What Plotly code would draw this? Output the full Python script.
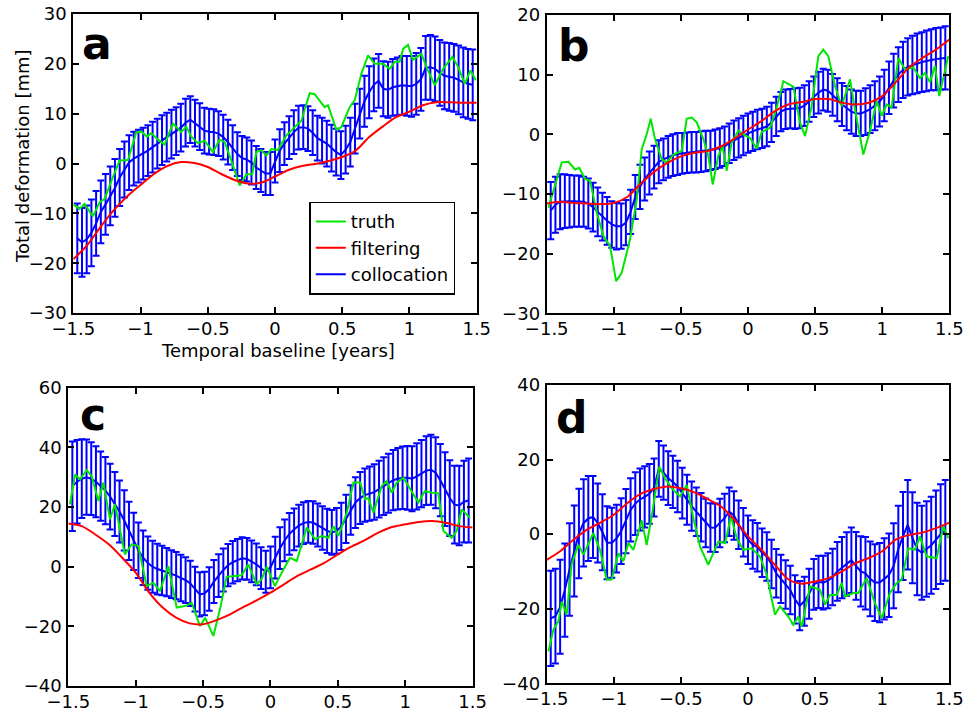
import numpy as np
import plotly.graph_objects as go

# Epochs of the collocation estimates (years around the reference date)
epochs = np.round(-1.47 + 0.035 * np.arange(85), 3)
# Epochs of the smoothed filter output
filt_t = np.round(-1.5 + 0.1 * np.arange(31), 2)

# ---------------- panel a ----------------
truth_a_t = [-1.50, -1.453, -1.416, -1.354, -1.304, -1.267, -1.205, -1.155, -1.093, -1.031,
             -0.994, -0.952, -0.920, -0.870, -0.821, -0.759, -0.697, -0.660, -0.622, -0.573,
             -0.523, -0.461, -0.412, -0.374, -0.325, -0.263, -0.213, -0.169, -0.139, -0.102,
             -0.064, -0.027, 0.022, 0.084, 0.146, 0.196, 0.258, 0.295, 0.369, 0.394,
             0.456, 0.493, 0.555, 0.593, 0.642, 0.692, 0.741, 0.803, 0.853, 0.890,
             0.927, 0.952, 0.989, 1.026, 1.088, 1.126, 1.188, 1.250, 1.319, 1.361,
             1.411, 1.453, 1.493]
truth_a = [-8.2, -9.1, -8.1, -10.6, -7.8, -7.1, -2.7, 0.6, 0.7, 6.3,
           6.4, 5.4, 6.1, 4.8, 3.8, 8.0, 6.3, 7.4, 5.4, 4.1,
           4.6, 2.3, 4.8, 4.3, 0.6, -4.4, -2.2, -2.1, 2.3, 2.7,
           1.6, 2.9, 2.7, 5.6, 7.3, 8.6, 14.1, 13.9, 11.3, 11.7,
           6.8, 7.3, 11.3, 12.7, 18.0, 21.7, 20.0, 20.0, 19.0, 20.4,
           20.4, 23.0, 23.8, 20.8, 22.0, 19.4, 15.7, 19.0, 21.4, 19.4,
           16.0, 18.7, 16.7]
filter_a = [-19.2, -16.5, -12.8, -9.4, -6.6, -4.3, -2.1, -0.5, 0.3, 0.1,
            -0.7, -2.1, -3.3, -4.0, -3.8, -2.6, -1.3, -0.5, -0.1, 0.5,
            1.3, 2.6, 5.3, 7.4, 9.3, 10.4, 11.7, 12.3, 12.3, 12.2, 12.2]
colloc_a = [-15.0, -15.8, -15.2, -13.9, -12.0, -9.7, -8.2, -6.5, -4.9, -2.8,
            -1.2, 0.2, 1.0, 1.5, 2.0, 2.6, 3.3, 4.0, 4.7, 5.3,
            5.9, 6.5, 7.2, 8.2, 8.8, 8.1, 7.4, 6.6, 6.4, 6.3,
            6.0, 5.3, 4.3, 3.2, 1.9, 1.1, 0.8, 0.2, -0.8, -1.4,
            -2.0, -2.0, 0.5, 2.6, 4.0, 5.2, 6.3, 7.2, 7.3, 7.0,
            6.2, 5.1, 4.6, 4.0, 3.1, 2.3, 1.7, 2.8, 4.3, 7.0,
            10.0, 12.5, 14.3, 15.8, 16.6, 15.0, 14.8, 15.3, 15.5, 15.7,
            15.6, 15.5, 16.0, 16.9, 19.2, 19.3, 19.0, 18.2, 17.6, 17.4,
            17.2, 16.8, 16.3, 16.0, 15.8]
sigma_a = [7.0, 6.9, 6.8, 6.7, 6.5, 6.3, 6.1, 5.9, 5.8, 5.7,
           5.6, 5.5, 5.4, 5.3, 5.2, 5.1, 5.1, 5.0, 5.0, 4.9,
           4.9, 4.8, 4.8, 4.8, 4.7, 4.7, 4.7, 4.6, 4.6, 4.6,
           4.5, 4.5, 4.5, 4.5, 4.4, 4.4, 4.4, 4.4, 4.3, 4.3,
           4.3, 4.3, 4.3, 4.3, 4.3, 4.3, 4.4, 4.4, 4.4, 4.5,
           4.5, 4.5, 4.6, 4.6, 4.7, 4.7, 4.8, 4.8, 4.9, 5.0,
           5.0, 5.1, 5.2, 5.3, 5.4, 5.5, 5.6, 5.7, 5.8, 5.9,
           6.0, 6.1, 6.2, 6.3, 6.4, 6.5, 6.5, 6.6, 6.7, 6.8,
           6.8, 6.9, 7.0, 7.0, 7.1]

# ---------------- panel b ----------------
truth_b_t = [-1.487, -1.438, -1.388, -1.338, -1.289, -1.257, -1.215, -1.177, -1.127, -1.078,
             -1.028, -0.983, -0.941, -0.879, -0.829, -0.792, -0.755, -0.725, -0.693, -0.643,
             -0.606, -0.556, -0.494, -0.457, -0.420, -0.382, -0.333, -0.296, -0.263, -0.221,
             -0.189, -0.159, -0.122, -0.072, -0.035, 0.015, 0.065, 0.102, 0.164, 0.214,
             0.263, 0.338, 0.387, 0.425, 0.474, 0.524, 0.561, 0.598, 0.648, 0.698,
             0.760, 0.797, 0.859, 0.909, 0.959, 0.996, 1.033, 1.070, 1.120, 1.170,
             1.232, 1.281, 1.319, 1.356, 1.393, 1.425, 1.492]
truth_b = [-12.3, -8.7, -4.7, -4.6, -5.9, -5.6, -7.5, -7.8, -13.1, -17.0,
           -18.7, -24.6, -23.2, -17.6, -10.9, -2.5, 0.0, 2.6, -0.8, -4.2,
           -4.7, -3.4, -2.8, 2.6, 2.8, 2.0, -0.8, -3.6, -8.4, -3.6,
           -2.0, -6.1, -1.4, 0.6, 0.0, -0.6, -2.4, 0.4, 1.1, 4.5,
           8.9, 8.0, 2.0, -0.3, 4.7, 13.1, 14.2, 13.1, 8.1, 4.7,
           9.2, 4.2, -3.4, 0.6, 5.6, 3.1, 5.0, 4.5, 12.8, 10.9,
           11.2, 9.4, 10.3, 8.7, 11.5, 6.4, 13.1]
filter_b = [-11.6, -11.3, -11.5, -11.6, -11.7, -11.5, -10.5, -8.3, -6.3, -4.8,
            -3.7, -3.1, -2.8, -2.0, -0.7, 0.8, 2.2, 3.9, 5.0, 5.4,
            5.9, 5.9, 5.3, 5.0, 5.3, 6.4, 8.7, 11.2, 12.8, 14.2, 15.9]
colloc_b = [-12.8, -11.8, -11.3, -11.2, -11.2, -11.2, -11.2, -11.3, -11.6, -12.2,
            -13.0, -13.8, -14.5, -15.1, -15.4, -15.4, -14.8, -13.0, -10.5, -8.8,
            -7.5, -6.5, -5.5, -4.6, -4.2, -3.8, -3.5, -3.3, -3.2, -3.1,
            -3.0, -3.0, -2.9, -2.8, -2.7, -2.5, -2.3, -2.0, -1.5, -1.0,
            -0.6, -0.2, 0.2, 0.5, 0.8, 1.0, 1.3, 2.0, 3.0, 3.8,
            4.2, 4.3, 4.3, 4.4, 4.8, 5.5, 6.3, 7.0, 7.5, 7.3,
            6.6, 5.8, 5.0, 4.4, 3.8, 3.5, 3.5, 3.8, 4.2, 4.8,
            5.5, 6.5, 7.8, 9.0, 10.0, 10.8, 11.3, 11.6, 11.9, 12.1,
            12.3, 12.5, 12.6, 12.7, 12.8]
sigma_b = [4.8, 4.7, 4.6, 4.5, 4.4, 4.3, 4.3, 4.2, 4.2, 4.1,
           4.1, 4.0, 4.0, 3.9, 3.9, 3.8, 3.8, 3.7, 3.7, 3.7,
           3.6, 3.6, 3.6, 3.6, 3.5, 3.5, 3.5, 3.5, 3.4, 3.4,
           3.4, 3.4, 3.4, 3.4, 3.3, 3.3, 3.3, 3.3, 3.3, 3.3,
           3.3, 3.3, 3.3, 3.3, 3.3, 3.3, 3.3, 3.3, 3.3, 3.3,
           3.3, 3.3, 3.4, 3.4, 3.4, 3.4, 3.4, 3.5, 3.5, 3.5,
           3.5, 3.6, 3.6, 3.7, 3.7, 3.8, 3.8, 3.9, 4.0, 4.1,
           4.2, 4.3, 4.4, 4.5, 4.6, 4.7, 4.8, 4.9, 5.0, 5.0,
           5.1, 5.1, 5.2, 5.2, 5.3]

# ---------------- panel c ----------------
truth_c_t = [-1.488, -1.450, -1.413, -1.364, -1.327, -1.277, -1.240, -1.191, -1.154, -1.080,
             -1.030, -0.981, -0.919, -0.869, -0.820, -0.758, -0.696, -0.634, -0.585, -0.523,
             -0.485, -0.424, -0.375, -0.325, -0.264, -0.214, -0.164, -0.103, -0.066, -0.028,
             0.033, 0.083, 0.145, 0.195, 0.269, 0.331, 0.380, 0.430, 0.467, 0.504,
             0.566, 0.615, 0.665, 0.702, 0.726, 0.763, 0.825, 0.862, 0.899, 0.936,
             0.986, 1.023, 1.097, 1.146, 1.196, 1.245, 1.283, 1.344, 1.382, 1.418,
             1.480]
truth_c = [20.9, 30.9, 29.3, 32.4, 30.4, 22.0, 28.2, 15.9, 20.9, 4.1,
           7.5, 6.9, -6.5, -5.4, -8.2, 0.2, -13.7, -13.2, -12.1, -19.9,
           -17.1, -23.2, -14.3, -3.4, -3.1, -2.9, 0.8, -5.9, -4.2, 0.0,
           -6.5, -2.0, 3.0, 1.9, 13.1, 9.2, 10.3, 9.7, 13.6, 10.3,
           18.1, 28.2, 28.2, 22.6, 23.0, 18.1, 27.0, 28.7, 24.8, 28.2,
           29.8, 27.0, 21.5, 25.4, 24.8, 24.6, 12.0, 9.7, 12.0, 19.2,
           16.4]
filter_c = [14.5, 13.6, 10.8, 7.5, 3.0, -2.0, -8.7, -13.7, -17.1, -19.0,
            -19.3, -17.9, -16.0, -13.5, -11.2, -8.7, -5.9, -3.1, -0.9, 1.3,
            4.1, 6.7, 8.9, 11.4, 13.3, 14.2, 15.0, 15.3, 14.7, 13.6, 13.1]
colloc_c = [27.0, 28.5, 29.5, 30.0, 29.5, 28.5, 27.0, 25.5, 23.5, 21.0,
            18.5, 15.5, 12.0, 8.5, 5.5, 3.0, 1.2, 0.0, -0.8, -1.3,
            -1.8, -2.5, -3.0, -3.8, -4.5, -5.6, -7.5, -9.3, -9.0, -7.5,
            -5.0, -3.0, -1.1, 0.5, 1.5, 2.2, 2.8, 2.6, 1.8, 0.8,
            -0.5, -1.7, -0.2, 3.0, 6.2, 8.8, 11.0, 12.5, 13.8, 14.6,
            15.0, 14.8, 14.0, 13.0, 12.0, 11.5, 12.0, 13.5, 16.0, 19.0,
            21.5, 23.0, 24.0, 24.5, 25.0, 26.0, 27.0, 28.0, 29.0, 29.5,
            29.8, 29.8, 29.5, 30.3, 31.2, 32.2, 32.5, 31.5, 29.0, 26.0,
            23.0, 20.8, 20.5, 21.8, 22.2]
sigma_c = [15.0, 14.0, 13.2, 12.6, 12.2, 11.9, 11.6, 11.3, 11.0, 10.7,
           10.4, 10.1, 9.8, 9.6, 9.3, 9.1, 8.9, 8.7, 8.5, 8.3,
           8.1, 8.0, 7.9, 7.8, 7.7, 7.6, 7.5, 7.4, 7.3, 7.3,
           7.2, 7.2, 7.2, 7.1, 7.1, 7.1, 7.1, 7.0, 7.0, 7.0,
           7.0, 7.0, 7.0, 7.0, 7.0, 7.0, 7.0, 7.0, 7.0, 7.0,
           7.0, 7.1, 7.2, 7.3, 7.4, 7.5, 7.7, 7.9, 8.1, 8.3,
           8.5, 8.7, 8.9, 9.1, 9.3, 9.5, 9.7, 9.9, 10.1, 10.3,
           10.5, 10.7, 10.9, 11.1, 11.3, 11.5, 11.7, 11.9, 12.1, 12.4,
           12.7, 13.0, 13.3, 13.7, 14.1]

# ---------------- panel d ----------------
truth_d_t = [-1.487, -1.450, -1.413, -1.388, -1.351, -1.314, -1.264, -1.227, -1.152, -1.103,
             -1.053, -1.016, -0.966, -0.929, -0.891, -0.854, -0.792, -0.755, -0.718, -0.661,
             -0.618, -0.569, -0.507, -0.457, -0.407, -0.358, -0.296, -0.221, -0.171, -0.127,
             -0.084, -0.035, 0.027, 0.089, 0.139, 0.201, 0.238, 0.300, 0.338, 0.375,
             0.400, 0.462, 0.536, 0.574, 0.611, 0.661, 0.698, 0.723, 0.785, 0.822,
             0.884, 0.946, 0.996, 1.058, 1.108, 1.145, 1.194, 1.244, 1.281, 1.331,
             1.406, 1.455, 1.492]
truth_d = [-31.5, -25.6, -23.4, -18.1, -21.6, -8.0, -2.9, -5.5, 0.3, -4.2,
           -12.2, -12.2, -5.1, -7.3, -2.4, -4.2, 3.7, -2.9, 4.7, 18.1,
           15.0, 12.3, 10.1, 13.2, 4.3, -3.3, -8.2, -2.0, -2.4, 4.7,
           -1.1, -4.2, -3.8, -6.0, -10.9, -21.6, -19.4, -22.1, -24.3, -22.1,
           -24.8, -14.0, -14.9, -18.9, -16.3, -16.3, -13.1, -16.7, -15.8, -15.8,
           -11.8, -18.5, -22.5, -15.8, -13.1, -12.2, -3.8, -4.2, -0.6, -6.0,
           -6.4, 2.1, -1.1]
filter_d = [-6.9, -4.6, -1.5, 1.2, 3.1, 5.2, 8.3, 10.8, 12.1, 12.8,
            12.3, 11.2, 9.4, 7.4, 3.8, -0.6, -4.2, -8.2, -12.1, -13.3,
            -12.7, -11.8, -10.0, -7.8, -6.4, -4.6, -1.5, -0.2, 0.4, 1.6, 3.1]
colloc_d = [-22.6, -22.0, -19.5, -15.0, -9.5, -4.5, 0.2, 3.0, 4.2, 4.6,
            3.0, 0.5, -2.3, -2.3, -1.2, 0.8, 3.5, 6.5, 8.2, 9.3,
            10.0, 10.8, 12.5, 17.5, 16.5, 15.0, 14.0, 12.8, 11.0, 9.2,
            7.5, 6.0, 4.5, 3.0, 1.8, 1.7, 3.0, 4.3, 6.0, 5.0,
            2.5, 0.5, -1.5, -2.8, -3.5, -5.0, -6.0, -8.0, -10.5, -12.0,
            -13.5, -15.0, -17.5, -19.2, -18.0, -16.0, -13.5, -12.8, -13.0, -12.5,
            -11.5, -10.0, -9.0, -8.0, -7.0, -8.5, -10.0, -10.5, -12.0, -13.0,
            -13.0, -12.0, -11.0, -8.5, -4.0, -0.5, 2.5, -1.0, -4.0, -5.0,
            -4.0, -3.0, -1.5, 0.0, 1.0]
sigma_d = [12.8, 12.7, 12.6, 12.5, 12.4, 12.2, 12.0, 11.7, 11.4, 11.0,
           10.6, 10.2, 9.8, 9.4, 9.1, 8.8, 8.6, 8.5, 8.4, 8.3,
           8.2, 8.0, 7.8, 7.5, 7.3, 7.2, 7.0, 6.9, 6.8, 6.7,
           6.6, 6.5, 6.5, 6.5, 6.5, 6.5, 6.5, 6.5, 6.5, 6.5,
           6.5, 6.5, 6.5, 6.5, 6.5, 6.5, 6.5, 6.5, 6.5, 6.5,
           6.5, 6.5, 6.5, 6.6, 6.6, 6.7, 6.8, 7.0, 7.2, 7.4,
           7.6, 7.9, 8.2, 8.5, 8.8, 9.1, 9.4, 9.7, 10.0, 10.3,
           10.6, 10.9, 11.2, 11.4, 11.6, 11.8, 12.0, 12.2, 12.4, 12.6,
           12.8, 13.0, 13.2, 13.4, 13.5]

x_ticks = [-1.5, -1, -0.5, 0, 0.5, 1, 1.5]
y_ranges = {"a": [-30, 30], "b": [-30, 20], "c": [-40, 60], "d": [-40, 40]}
y_dticks = {"a": 10, "b": 10, "c": 20, "d": 20}

BLUE, GREEN, RED = "#0000ff", "#00e600", "#ff0000"
FONT = "DejaVu Sans"

panels = [
    ("a", 1, truth_a_t, truth_a, filter_a, colloc_a, sigma_a),
    ("b", 2, truth_b_t, truth_b, filter_b, colloc_b, sigma_b),
    ("c", 3, truth_c_t, truth_c, filter_c, colloc_c, sigma_c),
    ("d", 4, truth_d_t, truth_d, filter_d, colloc_d, sigma_d),
]

# axis boxes in paper fractions
domains = {
    "a": ([0.0756, 0.4920], [0.5628, 0.9804]),
    "b": ([0.5642, 0.9797], [0.5624, 0.9791]),
    "c": ([0.0705, 0.4878], [0.0419, 0.4585]),
    "d": ([0.5642, 0.9797], [0.0457, 0.4623]),
}

fig = go.Figure()
for key, n, tt, tv, fv, cv, sv in panels:
    xa = "x" if n == 1 else f"x{n}"
    ya = "y" if n == 1 else f"y{n}"
    first = key == "a"
    fig.add_trace(go.Scatter(
        x=epochs, y=cv, mode="lines", name="collocation", legendrank=3,
        showlegend=first, xaxis=xa, yaxis=ya,
        line=dict(color=BLUE, width=2),
        error_y=dict(type="data", array=sv, visible=True, color=BLUE,
                     thickness=2, width=3.5),
    ))
    fig.add_trace(go.Scatter(
        x=tt, y=tv, mode="lines", name="truth", legendrank=1,
        showlegend=first, xaxis=xa, yaxis=ya,
        line=dict(color=GREEN, width=2),
    ))
    fig.add_trace(go.Scatter(
        x=filt_t, y=fv, mode="lines", name="filtering", legendrank=2,
        showlegend=first, xaxis=xa, yaxis=ya,
        line=dict(color=RED, width=2, shape="spline", smoothing=0.8),
    ))

axis_common = dict(
    showline=True, linecolor="black", linewidth=2, mirror="ticks",
    ticks="inside", ticklen=6, tickwidth=1.5, tickcolor="black",
    showgrid=False, zeroline=False, automargin=False,
    tickfont=dict(family=FONT, size=18, color="black"),
)

layout_axes = {}
for key, n, *_ in panels:
    xd, yd = domains[key]
    xname = "xaxis" if n == 1 else f"xaxis{n}"
    yname = "yaxis" if n == 1 else f"yaxis{n}"
    ya = "y" if n == 1 else f"y{n}"
    xa = "x" if n == 1 else f"x{n}"
    layout_axes[xname] = dict(axis_common, domain=xd, range=[-1.5, 1.5],
                              tickvals=x_ticks, anchor=ya, ticklabelstandoff=-2)
    layout_axes[yname] = dict(axis_common, domain=yd, range=y_ranges[key],
                              dtick=y_dticks[key], tick0=0, anchor=xa,
                              ticklabelstandoff=1)

fig.update_layout(
    width=969, height=716,
    margin=dict(l=0, r=0, t=0, b=0, pad=0, autoexpand=False),
    paper_bgcolor="white", plot_bgcolor="white",
    font=dict(family=FONT, size=18, color="black"),
    showlegend=True,
    legend=dict(
        x=0.3192, y=0.7183, xanchor="left", yanchor="top",
        bgcolor="white", bordercolor="black", borderwidth=1.5,
        font=dict(family=FONT, size=18, color="black"),
        tracegroupgap=0, itemwidth=30,
    ),
    **layout_axes,
)

# panel letters
letters = [("a", 79.5, 16.5), ("b", 555.5, 18.2), ("c", 78.0, 386.5), ("d", 554.0, 389.9)]
for txt, px, py in letters:
    fig.add_annotation(
        text=txt, xref="paper", yref="paper",
        x=px / 969, y=1 - py / 716, xanchor="left", yanchor="top",
        showarrow=False,
        font=dict(family="DejaVu Sans", size=44, color="black", weight="bold"),
    )

# axis labels (first panel only)
fig.add_annotation(
    text="Temporal baseline [years]", xref="paper", yref="paper",
    x=278 / 969, y=1 - 350.5 / 716, xanchor="center", yanchor="middle",
    showarrow=False, font=dict(family=FONT, size=18, color="black"),
)
fig.add_annotation(
    text="Total deformation [mm]", xref="paper", yref="paper",
    x=23 / 969, y=1 - 156 / 716, xanchor="center", yanchor="middle",
    textangle=-90, showarrow=False,
    font=dict(family=FONT, size=18, color="black"),
)

fig.write_html("out.html")
